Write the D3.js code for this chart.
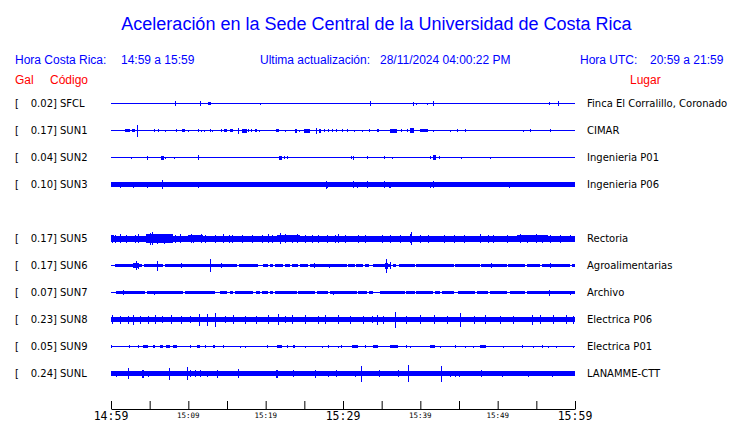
<!DOCTYPE html>
<html><head><meta charset="utf-8">
<script src="https://cdn.jsdelivr.net/npm/d3@7"></script>
<style>body{margin:0;background:#fff}svg{display:block}</style>
</head><body><svg id="c" width="740" height="423"></svg>
<script>
// ---------- data ----------
const titleText = "Aceleración en la Sede Central de la Universidad de Costa Rica";
const headerLabels = ["Hora Costa Rica:", "Ultima actualización:", "Hora UTC:"];
const headerValues = ["14:59 a 15:59", "28/11/2024 04:00:22 PM", "20:59 a 21:59"];
const columnHeads = ["Gal", "Código", "Lugar"];

const stationCodes = ["SFCL","SUN1","SUN2","SUN3","SUN5","SUN6","SUN7","SUN8","SUN9","SUNL"];
const galValues    = [0.02, 0.17, 0.04, 0.10, 0.17, 0.17, 0.07, 0.23, 0.05, 0.24];
const placeNames   = ["Finca El Corralillo, Coronado","CIMAR","Ingenieria P01","Ingenieria P06",
                      "Rectoria","Agroalimentarias","Archivo","Electrica P06","Electrica P01","LANAMME-CTT"];
const slotIndex    = [0,1,2,3,5,6,7,8,9,10];   // row 4 (SUN4) has no data
// background band half-amplitude (relative units), 0 = plain trace line
const bandAmp      = [0, 0, 0, 2.2, 3.0, 1.6, 1.4, 2.8, 0, 2.2];
const lineAmp      = 0.5;

// minutes after 14:59 where the band drops to a plain line
const gapsSUN6 = [[0,0.5],[4.0,4.3],[6.7,7.0],[16.3,16.5],[19.0,19.7],[20.3,20.6],[21.0,21.2],[22.3,22.5],[23.1,23.4],[24.2,24.4],[25.5,25.7],[30.5,30.7],[31.6,31.7],[32.6,32.8],[33.3,33.9],[36.1,36.5],[36.9,37.2],[39.3,39.5],[44.3,44.5],[47.7,47.9],[51.2,51.4],[53.5,53.8],[55.5,55.7],[59.4,59.6]];
const gapsSUN7 = [[0,0.6],[4.4,4.6],[9.3,9.6],[13.4,14.1],[15.0,15.4],[15.8,16.0],[18.4,18.8],[19.3,19.5],[20.3,20.6],[21.0,21.2],[24.0,24.2],[26.4,26.6],[28.1,28.3],[31.8,32.0],[33.1,33.3],[33.9,34.8],[38.0,38.2],[39.3,39.5],[41.7,41.9],[42.5,42.8],[44.3,44.9],[47.1,47.3],[48.8,49.0],[51.2,51.6],[53.5,53.8]];

// peaks: [minute, amplitude] or [start, end, amplitude]
const peaksSFCL = [[8.3,2.5],[11.5,2.5],[12.6,12.9,1.5],[19.3,1],[33.5,2.5],[39.0,2],[39.4,1],[40.9,1],[41.7,2.5],[56.6,1.5],[57.8,2.5]];
const peaksSUN1 = [[1.8,2.4,1.5],[2.7,3.1,1.5],[3.3,6],[3.4,3.5,2],[5.6,1.5],[6.1,1.5],[7.0,1],[8.4,1.5],[9.2,9.6,1.5],[10.0,1],[11.3,1.5],[11.6,1],[12.0,1],[12.8,1.5],[13.1,1],[14.2,14.4,1.5],[14.6,15.0,1.5],[15.4,15.8,1.5],[16.4,3],[16.9,17.6,2],[17.7,1.5],[18.1,1.5],[18.6,18.9,1.5],[19.1,1],[21.3,21.7,1.5],[22.5,1],[23.8,24.1,2],[24.3,1],[25.0,25.7,2],[26.5,3],[26.9,27.2,2],[27.5,1.5],[28.1,1.5],[28.6,1.5],[29.1,1.5],[29.9,30.0,1.5],[30.5,1.5],[31.4,1],[32.5,1],[33.4,1.5],[34.4,34.7,1.5],[36.1,37.0,2],[37.5,1.5],[38.3,1.5],[38.7,39.2,2.5],[40.0,41.0,1.5],[41.6,1],[43.8,1],[44.7,1.5],[45.8,1.5],[53.3,1],[54.2,1.5],[56.8,1.5]];
const peaksSUN2 = [[2.6,1],[4.6,2],[6.5,6.8,2],[7.0,1],[8.1,1],[11.3,2.5],[21.7,22.1,2],[22.4,1.5],[22.7,1.5],[31.0,1.5],[31.3,2],[33.1,1.5],[35.3,1.5],[36.4,1],[41.2,1.5],[41.7,42.0,2.5],[42.4,1.5],[45.2,1],[49.0,1]];
const peaksSUN3 = [[1.2,3],[2.9,3],[4.6,3],[6.6,4.5],[11.3,3],[27.8,4],[27.9,28.1,3],[31.3,3.5],[31.8,3],[33.1,3.5],[35.3,3.5],[36.0,36.2,3],[41.2,3],[41.7,3.5],[51.5,3]];
const peaksSUN5 = [[0,0.4,3.5],[0.1,4],[0.5,4],[1.2,4.5],[2.0,4],[3.1,4],[3.5,4.5],[4.5,8.0,4.3],[5.0,6],[5.3,6.5],[6.0,5],[6.8,5],[8.3,4],[8.9,4.5],[9.9,11.9,3.6],[10.3,4.5],[10.6,4],[11.7,4.5],[12.2,4],[13.4,4],[14.5,4.5],[15.2,4],[15.6,4],[16.9,4],[18.2,4],[19.5,4],[20.3,4.5],[20.8,4],[21.5,24.5,3.6],[21.9,5.5],[22.5,4.5],[23.4,4],[24.0,4.5],[25.1,4],[26.0,4],[26.8,4],[27.9,4],[29.0,4],[29.4,4.5],[30.3,4],[32.0,4],[32.8,4],[35.0,4],[36.1,4],[37.4,4],[38.6,4.5],[38.8,6.5],[40.0,4],[41.0,4],[43.0,4],[44.3,4],[45.6,4],[47.7,4.5],[48.8,4],[49.4,4],[51.2,4],[52.5,56.5,3.6],[52.9,4.5],[53.8,4],[55.0,4.5],[55.7,4],[56.8,4],[58.1,4],[59.4,3.5]];
const peaksSUN6 = [[2.9,3.6,2.5],[3.2,4.5],[3.5,3],[6.0,5],[9.1,2.5],[12.8,6.5],[14.2,2.5],[26.3,2.5],[28.2,2],[35.4,35.8,3],[35.6,7],[36.1,3.5],[49.2,2.5],[56.8,2.5]];
const peaksSUN7 = [[1.6,2.5],[5.6,2],[28.7,2],[56.6,3],[59.4,2]];
const peaksSUN8 = [[0.1,4.5],[1.2,4],[2.2,4],[2.9,5],[3.8,4],[4.8,4],[5.7,4.5],[6.6,3.8],[7.8,4.5],[9.1,4],[10.2,3.8],[11.4,6],[12.4,6],[13.4,7],[14.7,3.8],[15.8,4.5],[17.3,4],[18.8,4],[20.3,4.5],[21.6,5.5],[22.5,3.8],[23.4,4.5],[25.1,4.5],[26.8,4],[27.7,4.5],[29.4,4.5],[30.9,4],[32.6,4],[33.8,3.8],[34.4,5],[35.2,4],[36.7,8],[38.2,4],[40.0,4.5],[41.8,4.5],[43.4,4],[45.1,7],[46.9,4],[48.4,4.5],[50.3,4],[52.0,4],[54.4,5],[55.5,4.5],[57.2,4.5],[58.9,4.5],[59.8,4]];
const peaksSUN9 = [[0.0,1.5],[2.3,1.5],[3.5,3.6,1.5],[4.1,4.8,1.5],[5.4,5.7,1.5],[6.3,6.7,1.5],[7.1,7.6,1.5],[8.0,8.5,1.5],[10.2,1.5],[11.1,11.5,1.5],[12.2,1.5],[13.2,13.4,1.5],[14.5,1.5],[16.7,1],[17.3,1],[20.2,1.5],[21.5,22.1,1.5],[22.8,1.5],[23.5,23.8,1.5],[25.1,1],[27.3,1],[28.1,1.5],[29.4,1],[29.8,1.5],[31.2,31.9,1.5],[32.8,1.5],[33.9,34.5,1.5],[36.1,37.1,1.5],[38.2,1.5],[38.7,1],[41.3,41.9,1.5],[42.5,1],[44.5,1.5],[45.8,1],[46.8,1],[47.7,48.5,1.5],[50.7,1],[53.1,1.5],[54.6,1],[55.7,1.5],[56.5,1],[57.6,1],[59.7,1]];
const peaksSUNL = [[0.6,3],[2.2,5.5],[4.0,4.3,4],[4.8,3],[7.5,6],[9.8,6.5],[10.2,3.5],[10.9,3.5],[11.5,3.2],[12.4,3],[13.7,4],[16.4,4.5],[18.0,2.8],[21.4,21.6,4],[23.5,3.5],[26.4,4],[28.1,3],[29.1,3.5],[31.6,3],[32.3,8],[34.7,3.5],[35.2,2.8],[37.1,3.5],[38.4,8.5],[42.7,8],[43.8,3],[44.5,3],[45.0,3],[47.9,3.5],[50.5,3],[52.0,2.8],[53.9,3],[57.0,3],[58.1,2.8]];

const gapLists  = [[],[],[],[],[],gapsSUN6,gapsSUN7,[],[],[]];
const peakLists = [peaksSFCL,peaksSUN1,peaksSUN2,peaksSUN3,peaksSUN5,peaksSUN6,peaksSUN7,peaksSUN8,peaksSUN9,peaksSUNL];

const tickMinutes = d3.range(0, 61, 5);
const labelMinutes = [0,10,20,30,40,50,60];
const tickLabels = ["14:59","15:09","15:19","15:29","15:39","15:49","15:59"];
const majorLabels = ["14:59","15:29","15:59"];

// ---------- drawing ----------
const BLUE = "#0000ff", RED = "#ff0000";
const svg = d3.select("#c");
const x = d3.scaleLinear().domain([0, 60]).range([111, 575]);
const row = d3.scaleLinear().domain([0, 10]).range([103.5, 373.5]);
const amp = d3.scaleLinear().domain([-12, 12]).range([12, -12]);

svg.append("text").attr("x", 376.5).attr("y", 30).attr("text-anchor", "middle")
  .attr("font-family", "Liberation Sans, Arial, sans-serif").attr("font-size", 18)
  .attr("fill", BLUE).text(titleText);

const hdrLabelX = [15, 260, 580], hdrValueX = [121, 380, 650];
headerLabels.forEach((t, i) => {
  svg.append("text").attr("x", hdrLabelX[i]).attr("y", 64)
    .attr("font-family", "Liberation Sans, Arial, sans-serif").attr("font-size", 12)
    .attr("fill", BLUE).text(t);
  svg.append("text").attr("x", hdrValueX[i]).attr("y", 64)
    .attr("font-family", "Liberation Sans, Arial, sans-serif").attr("font-size", 12)
    .attr("fill", BLUE).text(headerValues[i]);
});
const colX = [15, 50, 630];
columnHeads.forEach((t, i) => {
  svg.append("text").attr("x", colX[i]).attr("y", 84)
    .attr("font-family", "Liberation Sans, Arial, sans-serif").attr("font-size", 12)
    .attr("fill", RED).text(t);
});

function complement(gaps) {
  const segs = []; let s = 0;
  gaps.slice().sort((a, b) => a[0] - b[0]).forEach(g => { if (g[0] > s) segs.push([s, g[0]]); s = Math.max(s, g[1]); });
  if (s < 60) segs.push([s, 60]);
  return segs;
}

stationCodes.forEach((code, i) => {
  const cy = row(slotIndex[i]);
  const g = svg.append("g").attr("transform", `translate(0,${cy})`)
    .attr("fill", BLUE).attr("shape-rendering", "crispEdges");
  g.append("rect").attr("x", x(0)).attr("width", x(60) - x(0))
    .attr("y", amp(lineAmp)).attr("height", amp(-lineAmp) - amp(lineAmp));
  if (bandAmp[i] > 0) {
    g.selectAll("rect.band").data(complement(gapLists[i])).join("rect").attr("class", "band")
      .attr("x", d => x(d[0])).attr("width", d => x(d[1]) - x(d[0]))
      .attr("y", amp(bandAmp[i])).attr("height", amp(-bandAmp[i]) - amp(bandAmp[i]));
  }
  g.selectAll("rect.pk").data(peakLists[i]).join("rect").attr("class", "pk")
    .attr("x", d => x(d[0]))
    .attr("width", d => d.length === 3 ? Math.max(1, x(d[1]) - x(d[0])) : 1)
    .attr("y", d => amp(d[d.length - 1]))
    .attr("height", d => amp(-d[d.length - 1]) - amp(d[d.length - 1]));

  const ty = cy + 3.5;
  const f = "DejaVu Sans, sans-serif";
  svg.append("text").attr("x", 15).attr("y", ty).attr("font-family", f).attr("font-size", 10).text("[");
  svg.append("text").attr("x", 53).attr("y", ty).attr("font-family", f).attr("font-size", 10)
    .attr("text-anchor", "end").text(galValues[i].toFixed(2));
  svg.append("text").attr("x", 53).attr("y", ty).attr("font-family", f).attr("font-size", 10).text("]");
  svg.append("text").attr("x", 60).attr("y", ty).attr("font-family", f).attr("font-size", 10).text(code);
  svg.append("text").attr("x", 587).attr("y", ty).attr("font-family", f).attr("font-size", 10).text(placeNames[i]);
});

// time axis
const axis = d3.axisTop(x).tickValues(tickMinutes).tickSize(8).tickSizeOuter(0).tickFormat("");
const ag = svg.append("g").attr("transform", "translate(0,409)").call(axis);
ag.selectAll("path,line").attr("stroke", "#000");

svg.selectAll("text.tl").data(labelMinutes).join("text").attr("class", "tl")
  .attr("x", d => x(d))
  .attr("y", (d, i) => majorLabels.includes(tickLabels[i]) ? 420 : 417.5)
  .attr("text-anchor", "middle")
  .attr("font-family", "DejaVu Sans Mono, monospace")
  .attr("font-size", (d, i) => majorLabels.includes(tickLabels[i]) ? 11.5 : 7.5)
  .attr("fill", "#000")
  .text((d, i) => tickLabels[i]);
</script></body></html>
